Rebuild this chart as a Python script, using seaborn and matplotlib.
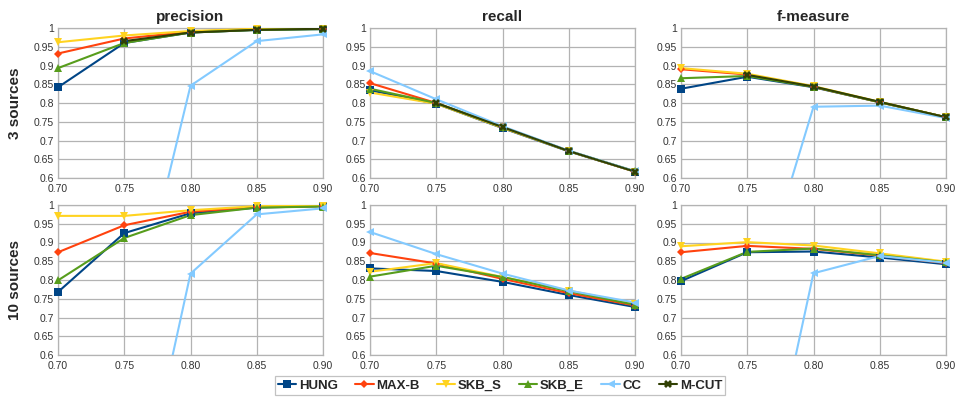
import numpy as np
import pandas as pd
import matplotlib
matplotlib.use("Agg")
import matplotlib.pyplot as plt
from matplotlib.lines import Line2D
import seaborn as sns

thresholds = [0.70, 0.75, 0.80, 0.85, 0.90]
methods = ["HUNG", "MAX-B", "SKB_S", "SKB_E", "CC", "M-CUT"]
metrics = ["precision", "recall", "f-measure"]
rows = ["3 sources", "10 sources"]
nan = np.nan

# 3 sources
p3_hung = [0.842, 0.960, 0.988, 0.995, 0.997]
p3_maxb = [0.932, 0.972, 0.990, 0.997, 0.998]
p3_skbs = [0.962, 0.980, 0.992, 0.998, 0.998]
p3_skbe = [0.893, 0.960, 0.988, 0.995, 0.997]
p3_cc = [0.050, 0.117, 0.846, 0.965, 0.983]
p3_mcut = [nan, 0.965, 0.988, 0.995, 0.998]

r3_hung = [0.834, 0.798, 0.733, 0.671, 0.617]
r3_maxb = [0.853, 0.800, 0.735, 0.672, 0.617]
r3_skbs = [0.828, 0.798, 0.734, 0.672, 0.617]
r3_skbe = [0.838, 0.800, 0.736, 0.672, 0.618]
r3_cc = [0.885, 0.810, 0.738, 0.673, 0.618]
r3_mcut = [nan, 0.800, 0.736, 0.672, 0.617]

f3_hung = [0.838, 0.870, 0.842, 0.802, 0.762]
f3_maxb = [0.890, 0.876, 0.843, 0.802, 0.762]
f3_skbs = [0.893, 0.878, 0.845, 0.803, 0.762]
f3_skbe = [0.866, 0.872, 0.843, 0.802, 0.762]
f3_cc = [0.100, 0.207, 0.790, 0.793, 0.760]
f3_mcut = [nan, 0.875, 0.844, 0.803, 0.762]

# 10 sources (no M-CUT results)
p10_hung = [0.768, 0.925, 0.978, 0.993, 0.997]
p10_maxb = [0.874, 0.946, 0.982, 0.995, 0.997]
p10_skbs = [0.971, 0.971, 0.986, 0.997, 0.998]
p10_skbe = [0.799, 0.912, 0.973, 0.993, 0.996]
p10_cc = [0.000, 0.010, 0.817, 0.975, 0.991]
p10_mcut = [nan, nan, nan, nan, nan]

r10_hung = [0.831, 0.824, 0.795, 0.760, 0.728]
r10_maxb = [0.872, 0.844, 0.803, 0.765, 0.732]
r10_skbs = [0.822, 0.845, 0.808, 0.772, 0.736]
r10_skbe = [0.809, 0.838, 0.808, 0.770, 0.734]
r10_cc = [0.928, 0.869, 0.817, 0.772, 0.740]
r10_mcut = [nan, nan, nan, nan, nan]

f10_hung = [0.797, 0.874, 0.876, 0.860, 0.842]
f10_maxb = [0.874, 0.891, 0.883, 0.865, 0.845]
f10_skbs = [0.890, 0.901, 0.892, 0.871, 0.849]
f10_skbe = [0.803, 0.875, 0.884, 0.866, 0.847]
f10_cc = [0.000, 0.000, 0.818, 0.864, 0.846]
f10_mcut = [nan, nan, nan, nan, nan]

data = {
    ("3 sources", "precision"): [p3_hung, p3_maxb, p3_skbs, p3_skbe, p3_cc, p3_mcut],
    ("3 sources", "recall"): [r3_hung, r3_maxb, r3_skbs, r3_skbe, r3_cc, r3_mcut],
    ("3 sources", "f-measure"): [f3_hung, f3_maxb, f3_skbs, f3_skbe, f3_cc, f3_mcut],
    ("10 sources", "precision"): [p10_hung, p10_maxb, p10_skbs, p10_skbe, p10_cc, p10_mcut],
    ("10 sources", "recall"): [r10_hung, r10_maxb, r10_skbs, r10_skbe, r10_cc, r10_mcut],
    ("10 sources", "f-measure"): [f10_hung, f10_maxb, f10_skbs, f10_skbe, f10_cc, f10_mcut],
}

records = []
for (row, metric), series in data.items():
    for m, vals in zip(methods, series):
        for t, v in zip(thresholds, vals):
            records.append(dict(row=row, metric=metric, method=m, threshold=t, value=v))
df = pd.DataFrame(records)

colors = {"HUNG": "#004586", "MAX-B": "#ff420e", "SKB_S": "#ffd320",
          "SKB_E": "#579d1c", "CC": "#83caff", "M-CUT": "#314004"}
markers = {"HUNG": "s", "MAX-B": "D", "SKB_S": "v", "SKB_E": "^",
           "CC": "<", "M-CUT": "X"}
msize = {"HUNG": 5.5, "MAX-B": 4.5, "SKB_S": 5.5, "SKB_E": 5.5, "CC": 5.5, "M-CUT": 6}

sns.set_theme(style="white")
plt.rcParams['font.family'] = ['Liberation Sans', 'DejaVu Sans']

fig = plt.figure(figsize=(9.57, 3.97), dpi=100)
W, H = 957, 397
lefts = [58, 370, 681]
width = 265
tops = [28, 205]
height = 150

yticks = [0.6, 0.65, 0.7, 0.75, 0.8, 0.85, 0.9, 0.95, 1.0]
ylabels = ["0.6", "0.65", "0.7", "0.75", "0.8", "0.85", "0.9", "0.95", "1"]
grid_c = "#b3b3b3"

for ri, row in enumerate(rows):
    for ci, metric in enumerate(metrics):
        ax = fig.add_axes([lefts[ci] / W, 1 - (tops[ri] + height) / H, width / W, height / H])
        sub = df[(df.row == row) & (df.metric == metric)]
        for m in methods:
            s = sub[sub.method == m].dropna()
            if s.empty:
                continue
            sns.lineplot(data=s, x="threshold", y="value", ax=ax, color=colors[m],
                         linewidth=1.5, legend=False, zorder=3)
            inr = s[(s.value >= 0.6) & (s.value <= 1.0)]
            sns.lineplot(data=inr, x="threshold", y="value", ax=ax, color=colors[m],
                         linestyle="", marker=markers[m], markersize=msize[m],
                         markeredgewidth=0, legend=False, clip_on=False, zorder=4)
        ax.set_xlim(0.70, 0.90)
        ax.set_ylim(0.6, 1.0)
        ax.set_xticks(thresholds)
        ax.set_xticklabels([f"{t:.2f}" for t in thresholds])
        ax.set_yticks(yticks)
        ax.set_yticklabels(ylabels)
        ax.grid(True, color=grid_c, linewidth=0.9)
        ax.set_axisbelow(True)
        for sp in ax.spines.values():
            sp.set_color(grid_c)
            sp.set_linewidth(0.9)
        ax.tick_params(axis="both", labelsize=7.5, colors="#333333", length=0)
        ax.tick_params(axis="x", pad=4.5)
        ax.tick_params(axis="y", pad=3)
        ax.set_xlabel("")
        ax.set_ylabel("")
        if ri == 0:
            ax.set_title(metric, fontsize=11, fontweight="bold", pad=5)
        if ci == 0:
            ax.set_ylabel(row, fontsize=11, fontweight="bold", labelpad=8)

handles = [Line2D([0], [0], color=colors[m], marker=markers[m], markersize=msize[m],
                  markeredgewidth=0, linewidth=1.5) for m in methods]
leg = fig.legend(handles, methods, loc="center", bbox_to_anchor=(500 / W, 1 - 385.5 / H),
                 ncol=6, frameon=True, fancybox=False,
                 prop={"weight": "bold", "size": 9.5}, handlelength=1.4,
                 handletextpad=0.2, columnspacing=1.3, borderpad=0.25)
leg.get_frame().set_edgecolor("#b3b3b3")
leg.get_frame().set_linewidth(0.9)

fig.savefig("out.png", dpi=100)
